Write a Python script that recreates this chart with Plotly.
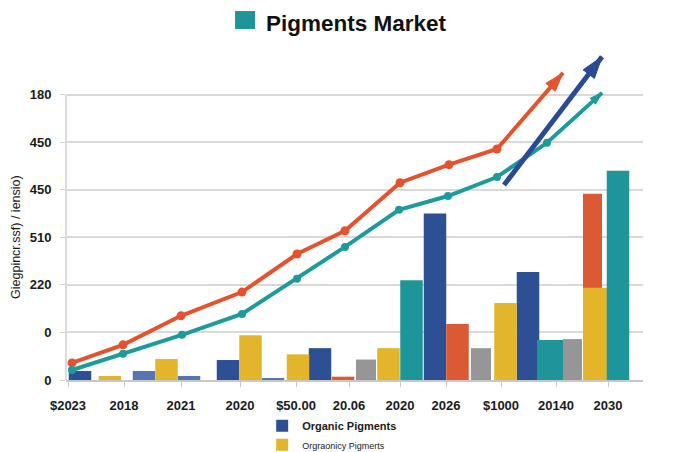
import plotly.graph_objects as go

# ---------------- data ----------------
tick_pos = [0.2, 5.8, 11.5, 17.4, 23.0, 28.3, 33.4, 38.0, 43.5, 49.0, 54.2]
tick_text = ["$2023", "2018", "2021", "2020", "$50.00", "20.06", "2020", "2026", "$1000", "20140", "2030"]
ytick_pos = [0, 1, 2, 3, 4, 5, 6]
ytick_text = ["0", "0", "220", "510", "450", "450", "180"]

navy_x = [1.4, 16.2, 25.4, 36.9, 46.2]
navy_y = [0.19, 0.42, 0.67, 3.5, 2.27]
lightblue_x = [7.8, 12.3, 20.7]
lightblue_y = [0.19, 0.085, 0.03]
yellow_x = [4.4, 10.05, 18.45, 23.2, 32.25, 43.95, 52.95]
yellow_y = [0.084, 0.44, 0.94, 0.54, 0.67, 1.62, 1.94]
orange_bar_x = [27.7, 39.15, 52.65]
orange_bar_y = [0.07, 1.18, 3.92]
teal_bar_x = [34.55, 48.4, 55.2]
teal_bar_y = [2.1, 0.84, 4.4]
gray_x = [30.0, 41.5, 50.65]
gray_y = [0.43, 0.67, 0.86]

orange_line_x = [0.6, 5.7, 11.5, 17.6, 23.1, 27.9, 33.4, 38.3, 43.1, 49.7]
orange_line_y = [0.36, 0.74, 1.35, 1.85, 2.65, 3.14, 4.15, 4.53, 4.86, 6.46]
teal_line_x = [0.6, 5.7, 11.6, 17.6, 23.1, 27.9, 33.3, 38.2, 43.1, 48.1, 53.6]
teal_line_y = [0.21, 0.55, 0.95, 1.39, 2.13, 2.80, 3.58, 3.87, 4.27, 4.99, 6.04]
blue_arrow_x = [43.8, 53.6]
blue_arrow_y = [4.1, 6.8]

# ---------------- styles ----------------
NAVY = "#2d4f93"
LIGHTBLUE = "#5574b0"
YELLOW = "#e3b52b"
ORANGE_BAR = "#dc5a33"
TEAL = "#1e9699"
GRAY = "#969696"
ORANGE_LINE = "#e4522e"
TEAL_LINE = "#1d9a9b"
ARROW_BLUE = "#2b4a96"
BW = 2.25

fig = go.Figure()


def add_bars(x, y, color, name, show, widths=None):
    fig.add_trace(go.Bar(
        x=x, y=y, name=name, showlegend=show,
        width=widths if widths is not None else [BW] * len(x),
        marker=dict(color=color, line=dict(width=0)),
        hoverinfo="skip",
    ))


add_bars(navy_x, navy_y, NAVY, "<b>Organic Pigments</b>", True)
add_bars(lightblue_x, lightblue_y, LIGHTBLUE, "lightblue", False)
add_bars(orange_bar_x, orange_bar_y, ORANGE_BAR, "orange", False, [BW, BW, 1.9])
add_bars(yellow_x, yellow_y, YELLOW, "<span style='font-size:9px'>Orgraonicy Pigmerts</span>", True,
         [BW] * 6 + [2.5])
add_bars(teal_bar_x, teal_bar_y, TEAL, "teal", False, [BW, 2.6, BW])
add_bars(gray_x, gray_y, GRAY, "gray", False, [2.0, 2.0, 1.9])


def add_line(x, y, color, msize, asize, width):
    n = len(x)
    fig.add_trace(go.Scatter(
        x=x, y=y, mode="lines+markers", showlegend=False, cliponaxis=False,
        line=dict(color=color, width=width),
        marker=dict(color=color, symbol="circle", opacity=1,
                    size=[msize] * (n - 1) + [0], line=dict(width=0)),
        hoverinfo="skip",
    ))
    fig.add_trace(go.Scatter(
        x=x[-2:], y=y[-2:], mode="markers", showlegend=False, cliponaxis=False,
        marker=dict(color=color, symbol=["circle", "arrow"], size=[0, asize], opacity=1,
                    angleref="previous", line=dict(width=1, color=color)),
        hoverinfo="skip",
    ))


add_line(orange_line_x, orange_line_y, ORANGE_LINE, 9, 20, 4)
add_line(teal_line_x, teal_line_y, TEAL_LINE, 8, 13, 4)
add_line(blue_arrow_x, blue_arrow_y, ARROW_BLUE, 0, 23, 5)

fig.update_layout(
    width=674, height=444,
    margin=dict(l=58, r=39, t=44, b=72, autoexpand=False),
    paper_bgcolor="white", plot_bgcolor="white",
    barmode="overlay",
    font=dict(family="Liberation Sans, Arial, sans-serif", color="#1a1a1a"),
    xaxis=dict(range=[0, 57.7], tickmode="array", tickvals=tick_pos, ticktext=tick_text,
               showgrid=False, zeroline=False, showline=True, linecolor="#c8c8c8", linewidth=1.5,
               ticks="outside", ticklen=5, tickcolor="#c8c8c8", ticklabelstandoff=8,
               tickfont=dict(size=13, weight="bold", color="#1a1a1a")),
    yaxis=dict(range=[0, 6.9], tickmode="array", tickvals=ytick_pos, ticktext=ytick_text,
               showgrid=True, gridcolor="#d9d9d9", gridwidth=1.5, zeroline=False,
               showline=False,
               ticks="outside", ticklen=5, tickcolor="#d0d0d0", ticklabelstandoff=6,
               tickfont=dict(size=13, weight="bold", color="#1a1a1a")),
    legend=dict(x=0.34, y=-0.095, xanchor="left", yanchor="top", orientation="v",
                font=dict(size=11, color="#1a1a1a"), bgcolor="rgba(0,0,0,0)",
                itemwidth=30, tracegroupgap=0),
    annotations=[
        dict(text="<b>Pigments Market</b>", x=0.503, y=1.132, xref="paper", yref="paper",
             xanchor="center", yanchor="top", showarrow=False,
             font=dict(size=22.5, color="#111111")),
        dict(text="Giegpincr.ssf) / iensio)", x=-0.0867, y=0.436, xref="paper", yref="paper",
             xanchor="center", yanchor="middle", textangle=-90, showarrow=False,
             font=dict(size=12.5, color="#1a1a1a")),
    ],
    shapes=[
        dict(type="rect", xref="paper", yref="paper", x0=0.293, x1=0.3276, y0=1.07, y1=1.125,
             fillcolor=TEAL, line=dict(width=0)),
        dict(type="line", xref="paper", yref="y", x0=0, x1=0, y0=0, y1=ytick_pos[-1],
             line=dict(color="#d0d0d0", width=1.5), layer="below"),
    ],
)

fig.write_html("out.html")
